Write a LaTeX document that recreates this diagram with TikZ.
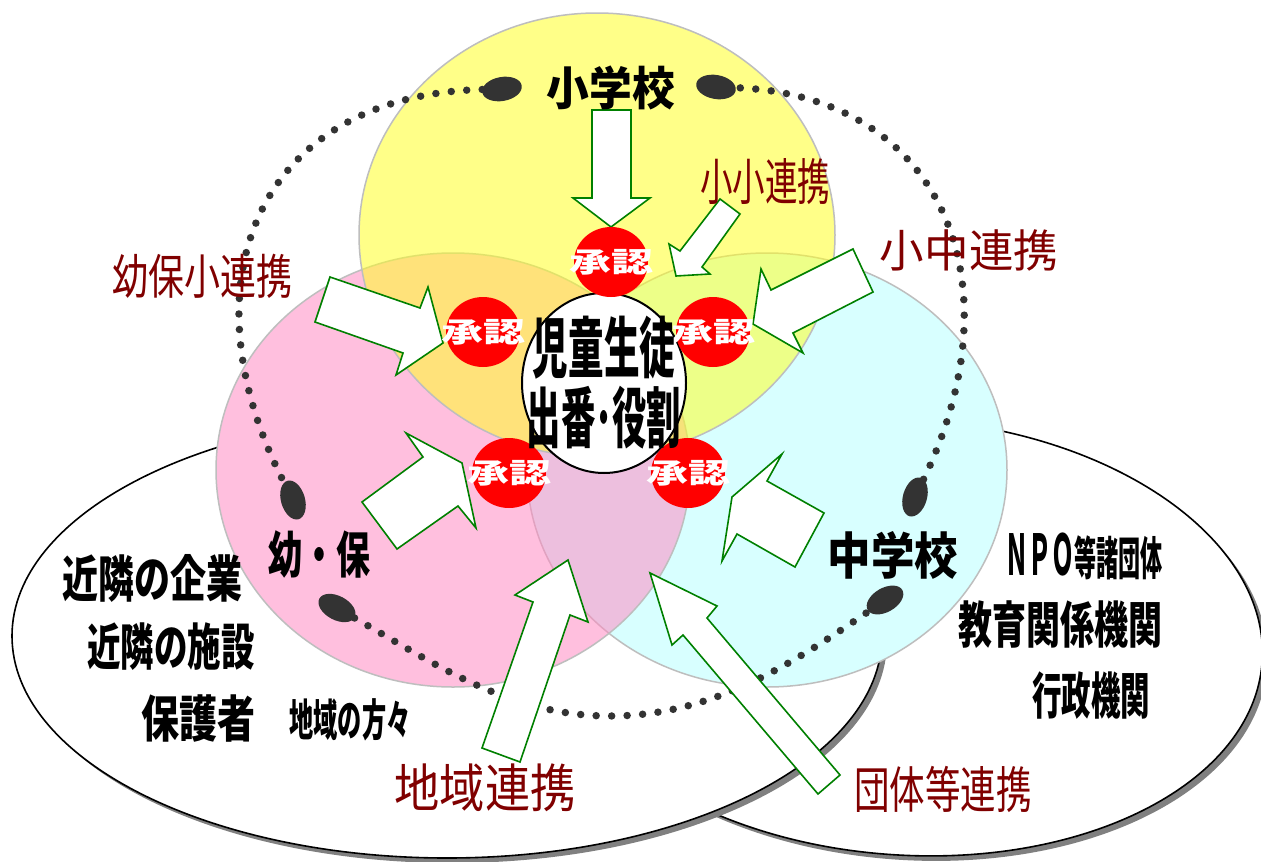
\documentclass[tikz,border=0pt]{standalone}
\usepackage{fontspec}
\setmainfont{Noto Sans CJK JP}
\usepackage{graphicx}
\usetikzlibrary{shapes.geometric}

\definecolor{yellowbase}{RGB}{255,255,40}
\definecolor{pinkbase}{RGB}{255,140,195}
\definecolor{cyanbase}{RGB}{185,255,255}
\definecolor{ringgray}{RGB}{190,190,190}
\definecolor{dotgray}{RGB}{51,51,51}
\definecolor{shadowgray}{RGB}{128,128,128}
\definecolor{arrowgreen}{RGB}{0,128,0}
\definecolor{okred}{RGB}{255,0,0}
\definecolor{linkred}{RGB}{128,0,0}

% size, horizontal squeeze, text
\newcommand{\lab}[3]{\fontsize{#1}{#1}\selectfont\scalebox{#2}[1]{#3}}

\begin{document}
\begin{tikzpicture}[x=1pt,y=-1pt,
  ring/.style={draw=ringgray,line width=1.5pt,fill opacity=0.55},
  blk/.style={draw=arrowgreen,fill=white,line width=1.6pt,line join=miter},
  okdot/.style={ellipse,fill=okred,minimum width=74pt,minimum height=70pt,inner sep=0pt},
  oktext/.style={inner sep=0pt,text=white,font=\bfseries},
  core/.style={ellipse,draw,line width=2pt,fill=white,minimum width=164pt,minimum height=180pt,inner sep=0pt},
  bigdot/.style={ellipse,fill=dotgray,minimum width=40pt,minimum height=24pt,inner sep=0pt},
  dotline/.style={draw=dotgray,line width=7.5pt,line cap=round,dash pattern=on 0pt off 15.5pt},
  lbl/.style={inner sep=0pt,font=\bfseries},
  link/.style={inner sep=0pt,text=linkred}]
\useasboundingbox (0,0) rectangle (1261,862);
\fill[white] (0,0) rectangle (1261,862);

% Outer groups (right one below the left one)
\fill[shadowgray,rotate around={-4:(910,642)}] (910,642) ellipse [x radius=358,y radius=218];
\draw[line width=1.6pt,fill=white,rotate around={-4:(905,637)}] (905,637) ellipse [x radius=358,y radius=218];
\fill[shadowgray] (452,641) ellipse [x radius=435,y radius=222];
\draw[line width=1.6pt,fill=white] (447,636) ellipse [x radius=435,y radius=222];

% School circles (white base so the groups do not show through)
\fill[white] (767,470) ellipse [x radius=240,y radius=217];
\fill[white] (453,470) ellipse [x radius=237,y radius=217];
\fill[white] (597,235) ellipse [x radius=238,y radius=222];
\draw[ring,fill=cyanbase] (767,470) ellipse [x radius=240,y radius=217];
\draw[ring,fill=pinkbase] (453,470) ellipse [x radius=237,y radius=217];
\draw[ring,fill=yellowbase] (597,235) ellipse [x radius=238,y radius=222];

% Dotted ring with oval ends
\foreach \nm/\x/\y/\a in {dTL/502/89/10, dL/293/500/-74, dBL/337/608/-28,
                          dBR/885/600/30, dR/915/497/74, dTR/716/87/-10}
  \node[bigdot,rotate=\a] (\nm) at (\x,\y) {};
\coordinate (dB) at (610,716);
\draw[dotline] (dTL) .. controls (260,95) and (180,280) .. (dL);
\draw[dotline] (dBL) .. controls (437,665) and (510,716) .. (dB)
                     .. controls (710,716) and (788,667) .. (dBR);
\draw[dotline] (dR) .. controls (1020,280) and (940,95) .. (dTR);

% Block arrows
\draw[blk] (592,110) -- (631,110) -- (631,198) -- (650,198) -- (611,227) -- (573,198) -- (592,198) -- cycle;
\draw[blk] (720,199) -- (740,214) -- (702,267) -- (710,274) -- (676,276) -- (669,244) -- (680,251) -- cycle;
\draw[blk] (853,249) -- (873,292) -- (793,333) -- (803,353) -- (753,324) -- (761,269) -- (771,290) -- cycle;
\draw[blk] (330,277) -- (420,308) -- (428,287) -- (443,343) -- (396,375) -- (403,353) -- (315,322) -- cycle;
\draw[blk] (362,502) -- (423,457) -- (406,433) -- (462,463) -- (476,528) -- (458,506) -- (397,549) -- cycle;
\draw[blk] (824,513) -- (767,481) -- (782,454) -- (732,497) -- (722,561) -- (737,534) -- (795,567) -- cycle;
\draw[blk] (482,748) -- (533,602) -- (515,595) -- (568,560) -- (588,622) -- (570,615) -- (520,762) -- cycle;
\draw[blk] (840,775) -- (707,618) -- (717,606) -- (650,573) -- (672,645) -- (683,635) -- (818,794) -- cycle;

% Centre and approvals
\node[core] (core) at (604,383) {};
\foreach \n/\x/\y in {1/611/262, 2/483/332, 3/713/332, 4/509/473, 5/688/473} {
  \node[okdot] (ok\n) at (\x,\y) {};
  \node[oktext] (okt\n) at (ok\n) {\lab{28}{1.5}{承認}};
}
\node[inner sep=0pt,align=center,font=\fontsize{66}{70}\selectfont\bfseries] (coretxt) at (core)
  {\scalebox{0.54}[1]{児童生徒}\\\scalebox{0.52}[1]{出番･役割}};

% School names
\node[lbl] (elem) at (611,88) {\lab{46}{0.93}{小学校}};
\node[lbl] (kind) at (319,554) {\lab{50}{0.68}{幼・保}};
\node[lbl] (junior) at (893,555) {\lab{50}{0.87}{中学校}};

% Community side
\node[lbl] (firms) at (152,578) {\lab{50}{0.72}{近隣の企業}};
\node[lbl] (sites) at (171,647) {\lab{50}{0.67}{近隣の施設}};
\node[lbl] (parents) at (198,719) {\lab{50}{0.76}{保護者}};
\node[lbl] (locals) at (350,720) {\lab{44}{0.55}{地域の方々}};

% Organisation side
\node[lbl] (npo) at (1084,556) {\fontsize{46}{46}\selectfont\scalebox{0.5}[1.22]{ＮＰＯ}\scalebox{0.48}[1]{等諸団体}};
\node[lbl] (edu) at (1060,625) {\lab{50}{0.68}{教育関係機関}};
\node[lbl] (gov) at (1091,696) {\lab{50}{0.59}{行政機関}};

% Links
\node[link] (lkEE) at (765,182) {\lab{50}{0.65}{小小連携}};
\node[link] (lkEJ) at (969,250) {\lab{45}{0.99}{小中連携}};
\node[link] (lkKE) at (202,276) {\lab{48}{0.75}{幼保小連携}};
\node[link] (lkLoc) at (485,788) {\lab{52}{0.87}{地域連携}};
\node[link] (lkOrg) at (943,789) {\lab{50}{0.71}{団体等連携}};
\end{tikzpicture}
\end{document}
